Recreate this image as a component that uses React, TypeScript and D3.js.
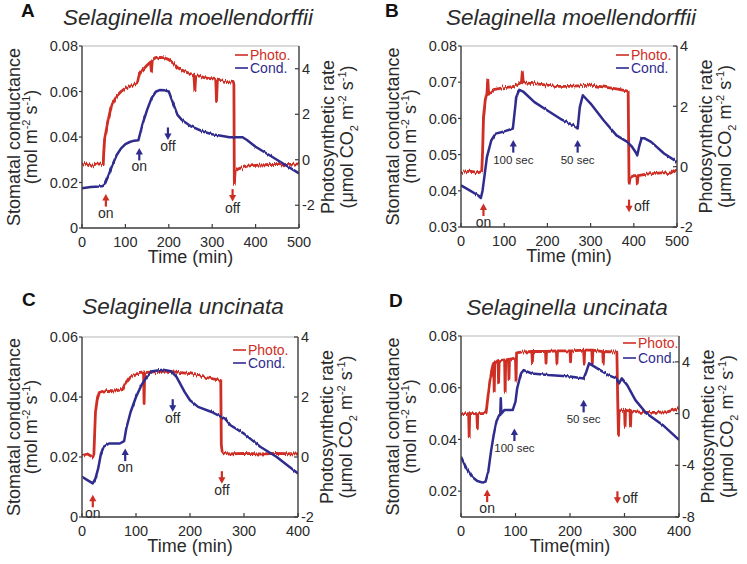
import React from 'react';
import * as d3 from 'd3';

// ---------- DATA ----------
// [time (min), value]
const photoA: [number, number][] = [[0,-0.2],[10,-0.15],[20,-0.25],[30,-0.2],[40,-0.18],[49,-0.22],[50,0.3],[52,0.9],[56,1.3],[60,1.7],[65,2.15],[70,2.45],[80,2.8],[90,3.0],[100,3.15],[110,3.22],[120,3.3],[128,3.4],[132,3.75],[140,3.95],[150,4.15],[158,4.3],[160,3.85],[162,4.35],[170,4.45],[180,4.5],[190,4.48],[200,4.4],[210,4.25],[220,4.05],[230,3.95],[240,3.85],[250,3.78],[258,3.72],[260,3.05],[262,3.7],[270,3.68],[280,3.62],[290,3.58],[300,3.55],[308,3.52],[310,2.6],[312,3.5],[320,3.48],[330,3.45],[340,3.42],[348,3.4],[350,3.3],[351,-1.05],[353,-0.5],[360,-0.4],[370,-0.35],[380,-0.28],[400,-0.25],[420,-0.22],[440,-0.2],[460,-0.22],[480,-0.2],[500,-0.18]];
const condA: [number, number][] = [[0,0.0175],[20,0.018],[40,0.0182],[48,0.0185],[52,0.019],[60,0.0226],[70,0.0277],[80,0.0321],[90,0.035],[100,0.0369],[110,0.0378],[120,0.0384],[130,0.0386],[135,0.0423],[140,0.046],[150,0.0519],[160,0.057],[170,0.0599],[180,0.0607],[190,0.0605],[200,0.06],[210,0.0548],[220,0.0497],[230,0.0475],[250,0.0448],[280,0.0423],[300,0.0412],[340,0.0399],[370,0.0399],[380,0.0387],[400,0.0357],[450,0.0299],[500,0.024]];

const photoB: [number, number][] = [[0,-0.2],[20,-0.15],[40,-0.2],[48,-0.15],[50,0.5],[52,1.6],[56,2.2],[60,2.45],[62,2.9],[64,2.4],[75,2.55],[100,2.62],[120,2.65],[130,2.72],[140,2.8],[142,3.15],[144,2.78],[170,2.75],[200,2.7],[220,2.66],[250,2.66],[270,2.68],[300,2.7],[320,2.66],[340,2.62],[360,2.58],[380,2.52],[387,2.5],[389,-0.55],[392,-0.35],[400,-0.3],[407,-0.3],[408,-0.55],[410,-0.3],[430,-0.25],[450,-0.22],[470,-0.2],[485,-0.25],[500,-0.1]];
const condB: [number, number][] = [[0,0.0415],[20,0.0401],[40,0.0387],[46,0.038],[50,0.0401],[55,0.0447],[60,0.0493],[70,0.0539],[80,0.0558],[100,0.0564],[120,0.0572],[123,0.0604],[128,0.0659],[135,0.0679],[145,0.0673],[170,0.0645],[200,0.0622],[230,0.0599],[260,0.0581],[270,0.0572],[275,0.0631],[282,0.0664],[300,0.0641],[330,0.0595],[360,0.0553],[385,0.0535],[395,0.0523],[405,0.0505],[408,0.0498],[413,0.0525],[418,0.0545],[425,0.0545],[440,0.0535],[470,0.0503],[500,0.048]];

const photoC: [number, number][] = [[0,0.05],[10,0.1],[20,0.0],[22,0.1],[25,1.5],[28,1.9],[32,2.15],[40,2.2],[50,2.22],[60,2.2],[75,2.25],[80,2.45],[90,2.7],[100,2.77],[114,2.8],[115,1.78],[116,2.8],[120,2.82],[150,2.86],[170,2.84],[200,2.78],[230,2.65],[250,2.58],[257,2.55],[258,0.4],[260,0.15],[270,0.1],[300,0.12],[330,0.1],[360,0.12],[400,0.1]];
const condC: [number, number][] = [[0,0.0134],[10,0.0123],[20,0.0112],[25,0.0129],[30,0.0162],[35,0.021],[40,0.0234],[50,0.0245],[70,0.0245],[78,0.0253],[82,0.0295],[90,0.035],[100,0.04],[110,0.0439],[120,0.0467],[130,0.0486],[150,0.0491],[165,0.0486],[175,0.0467],[190,0.0417],[200,0.0389],[215,0.0367],[240,0.035],[258,0.0334],[265,0.0328],[275,0.0306],[300,0.0278],[330,0.0234],[360,0.0201],[400,0.0145]];

const photoD: [number, number][] = [[0,0],[14,0],[15,-1.8],[16,0],[29,0],[30,-1.1],[31,0],[40,0],[46,0.05],[50,1.5],[53,2.5],[57,3.4],[60,3.9],[61,1.7],[62,3.9],[68,4.1],[69,2.4],[70,4.1],[80,4.15],[81,1.7],[82,4.15],[87,4.2],[88,2.7],[89,4.2],[100,4.3],[101,2.5],[102,4.7],[110,4.75],[130,4.8],[131,3.9],[132,4.8],[155,4.8],[156,3.9],[157,4.8],[175,4.85],[176,3.9],[177,4.85],[200,4.85],[201,4.0],[202,4.85],[225,4.9],[226,3.9],[227,4.9],[240,4.9],[241,3.9],[242,4.9],[260,4.8],[261,3.9],[262,4.8],[286,4.75],[288,0.15],[289,-1.7],[290,0.2],[300,0.27],[301,-1.0],[302,0.25],[310,0.2],[311,-1.0],[312,0.2],[330,0.1],[360,0.1],[380,0.15],[400,0.4]];
const condD: [number, number][] = [[0,0.0333],[10,0.0288],[20,0.0256],[30,0.0239],[40,0.0233],[45,0.0237],[50,0.0275],[55,0.0353],[60,0.0417],[65,0.0469],[70,0.0494],[72,0.0494],[73,0.0559],[74,0.05],[80,0.0514],[95,0.0514],[100,0.0546],[103,0.0597],[110,0.0655],[115,0.0668],[130,0.0655],[160,0.0649],[200,0.0643],[225,0.0636],[230,0.0662],[235,0.0694],[250,0.0675],[270,0.0649],[285,0.0636],[290,0.0617],[295,0.0636],[305,0.061],[320,0.0552],[340,0.0501],[370,0.0456],[400,0.0398]];

// Annotations: t (min), v = tip position on the left axis, direction, colour, label, label side
type Mark = { t: number; v: number; dir: 'up' | 'down'; c: 'r' | 'b'; label: string; side: 'below' | 'right'; small?: boolean };
const marksA: Mark[] = [
  { t: 55, v: 0.0149, dir: 'up', c: 'r', label: 'on', side: 'below' },
  { t: 132, v: 0.0352, dir: 'up', c: 'b', label: 'on', side: 'below' },
  { t: 198, v: 0.0387, dir: 'down', c: 'b', label: 'off', side: 'below' },
  { t: 347, v: 0.0116, dir: 'down', c: 'r', label: 'off', side: 'below' },
];
const marksB: Mark[] = [
  { t: 52, v: 0.0365, dir: 'up', c: 'r', label: 'on', side: 'below' },
  { t: 121, v: 0.054, dir: 'up', c: 'b', label: '100 sec', side: 'below', small: true },
  { t: 270, v: 0.054, dir: 'up', c: 'b', label: '50 sec', side: 'below', small: true },
  { t: 389, v: 0.0341, dir: 'down', c: 'r', label: 'off', side: 'right' },
];
const marksC: Mark[] = [
  { t: 20, v: 0.0074, dir: 'up', c: 'r', label: 'on', side: 'below' },
  { t: 80, v: 0.0228, dir: 'up', c: 'b', label: 'on', side: 'below' },
  { t: 168, v: 0.0351, dir: 'down', c: 'b', label: 'off', side: 'below' },
  { t: 259, v: 0.0111, dir: 'down', c: 'r', label: 'off', side: 'below' },
];
const marksD: Mark[] = [
  { t: 48, v: 0.0206, dir: 'up', c: 'r', label: 'on', side: 'below' },
  { t: 98, v: 0.0442, dir: 'up', c: 'b', label: '100 sec', side: 'below', small: true },
  { t: 225, v: 0.0553, dir: 'up', c: 'b', label: '50 sec', side: 'below', small: true },
  { t: 287, v: 0.0151, dir: 'down', c: 'r', label: 'off', side: 'right' },
];

// Axis domains & tick labels
const xTicks500 = [0, 100, 200, 300, 400, 500];
const xTicks400 = [0, 100, 200, 300, 400];
const leftTicksA = [0, 0.02, 0.04, 0.06, 0.08];
const leftTicksB = [0.03, 0.04, 0.05, 0.06, 0.07, 0.08];
const leftTicksC = [0, 0.02, 0.04, 0.06];
const leftTicksD = [0.02, 0.04, 0.06, 0.08];
const rightTicksABC = [-2, 0, 2, 4];
const rightTicksD = [-8, -4, 0, 4];
const leftDomA = [0, 0.08], rightDomA = [-3, 5];
const leftDomB = [0.03, 0.08], rightDomB = [-2, 4];
const leftDomC = [0, 0.06], rightDomC = [-2, 4];
const leftDomD = [0.01, 0.08], rightDomD = [-8, 6];
const legendLabels = ['Photo.', 'Cond.'];
const speciesTitles = ['Selaginella moellendorffii', 'Selaginella moellendorffii', 'Selaginella uncinata', 'Selaginella uncinata'];
const xTitles = ['Time (min)', 'Time (min)', 'Time (min)', 'Time(min)'];

// ---------- STYLE ----------
const RED = '#cf2e25';
const BLUE = '#2f2c8e';
const AXIS = '#3c3c3c';
const TXT = '#2a2a2a';
const FONT = "'Liberation Sans', Arial, Helvetica, sans-serif";

type Cfg = {
  id: string; letter: string; title: string; xTitle: string;
  left: number; right: number; top: number; bottom: number;
  xDom: number[]; xTicks: number[]; lDom: number[]; lTicks: number[]; rDom: number[]; rTicks: number[];
  photo: [number, number][]; cond: [number, number][]; marks: Mark[];
  letterX: number; letterY: number; titleX: number; titleY: number;
  legDx: number; legDy: number; legDy2: number;
};

const panels: Cfg[] = [
  { id: 'A', letter: 'A', title: speciesTitles[0], xTitle: xTitles[0], left: 82, right: 299, top: 46, bottom: 228,
    xDom: [0, 500], xTicks: xTicks500, lDom: leftDomA, lTicks: leftTicksA, rDom: rightDomA, rTicks: rightTicksABC,
    photo: photoA, cond: condA, marks: marksA, letterX: 21, letterY: 17, titleX: 188, titleY: 25, legDx: -64, legDy: 9, legDy2: 22 },
  { id: 'B', letter: 'B', title: speciesTitles[1], xTitle: xTitles[1], left: 461, right: 677, top: 46, bottom: 227,
    xDom: [0, 500], xTicks: xTicks500, lDom: leftDomB, lTicks: leftTicksB, rDom: rightDomB, rTicks: rightTicksABC,
    photo: photoB, cond: condB, marks: marksB, letterX: 385, letterY: 17, titleX: 571, titleY: 25, legDx: -61, legDy: 9, legDy2: 22 },
  { id: 'C', letter: 'C', title: speciesTitles[2], xTitle: xTitles[2], left: 82, right: 298, top: 337, bottom: 517,
    xDom: [0, 400], xTicks: xTicks400, lDom: leftDomC, lTicks: leftTicksC, rDom: rightDomC, rTicks: rightTicksABC,
    photo: photoC, cond: condC, marks: marksC, letterX: 22, letterY: 306, titleX: 183, titleY: 314, legDx: -65, legDy: 13, legDy2: 26 },
  { id: 'D', letter: 'D', title: speciesTitles[3], xTitle: xTitles[3], left: 461, right: 679, top: 336, bottom: 517,
    xDom: [0, 400], xTicks: xTicks400, lDom: leftDomD, lTicks: leftTicksD, rDom: rightDomD, rTicks: rightTicksD,
    photo: photoD, cond: condD, marks: marksD, letterX: 389, letterY: 307, titleX: 567, titleY: 315, legDx: -56, legDy: 7, legDy2: 22 },
];

const fmtL = (v: number) => (v === 0 ? '0' : v.toFixed(2));

function Arrow({ x, y, dir, color }: { x: number; y: number; dir: 'up' | 'down'; color: string }) {
  // y = tip
  const s = dir === 'up' ? 1 : -1;
  const head = `M${x},${y} L${x - 3.6},${y + s * 6.5} L${x + 3.6},${y + s * 6.5} Z`;
  const shaftY0 = y + s * 5.5;
  const shaftY1 = y + s * 12.5;
  return (
    <g>
      <path d={head} fill={color} />
      <rect x={x - 1.1} y={Math.min(shaftY0, shaftY1)} width={2.2} height={7} fill={color} />
    </g>
  );
}

function Panel({ p }: { p: Cfg }) {
  const x = d3.scaleLinear().domain(p.xDom).range([p.left, p.right]);
  const yL = d3.scaleLinear().domain(p.lDom).range([p.bottom, p.top]);
  const yR = d3.scaleLinear().domain(p.rDom).range([p.bottom, p.top]);
  const lineR = d3.line<[number, number]>().x(d => x(d[0])).y(d => yR(d[1]));
  const lineL = d3.line<[number, number]>().x(d => x(d[0])).y(d => yL(d[1]));
  const cx = (p.left + p.right) / 2;
  const cy = (p.top + p.bottom) / 2;
  const clipId = `clip-${p.id}`;
  return (
    <g fontFamily={FONT}>
      <defs>
        <clipPath id={clipId}>
          <rect x={p.left} y={p.top - 2} width={p.right - p.left} height={p.bottom - p.top + 2} />
        </clipPath>
      </defs>
      {/* letter and title */}
      <text x={p.letterX} y={p.letterY} fontSize={19} fontWeight="bold" fill="#111">{p.letter}</text>
      <text x={p.titleX} y={p.titleY} fontSize={22.5} fontStyle="italic" textAnchor="middle" fill={TXT}>{p.title}</text>

      {/* top border */}
      <line x1={p.left} x2={p.right} y1={p.top} y2={p.top} stroke="#b5b5b5" strokeWidth={1.2} />

      {/* traces (a vertical-only displacement filter gives the measured-signal jitter look) */}
      <g clipPath={`url(#${clipId})`}>
        <path d={lineR(p.photo) || ''} fill="none" stroke={RED} strokeWidth={2.8} strokeLinejoin="round" filter="url(#jitterR)" />
        <path d={lineL(p.cond) || ''} fill="none" stroke={BLUE} strokeWidth={2.5} strokeLinejoin="round" filter="url(#jitterB)" />
      </g>

      {/* axes */}
      <line x1={p.left} x2={p.left} y1={p.top} y2={p.bottom} stroke={AXIS} strokeWidth={1.4} />
      <line x1={p.right} x2={p.right} y1={p.top} y2={p.bottom} stroke={AXIS} strokeWidth={1.4} />
      <line x1={p.left} x2={p.right} y1={p.bottom} y2={p.bottom} stroke={AXIS} strokeWidth={1.4} />

      {p.xTicks.map(t => (
        <g key={'x' + t}>
          <line x1={x(t)} x2={x(t)} y1={p.bottom} y2={p.bottom - 4} stroke={AXIS} strokeWidth={1.2} />
          <text x={x(t)} y={p.bottom + 18.5} fontSize={14.5} textAnchor="middle" fill={TXT}>{t}</text>
        </g>
      ))}
      {p.lTicks.map(t => (
        <g key={'l' + t}>
          <line x1={p.left - 3} x2={p.left} y1={yL(t)} y2={yL(t)} stroke={AXIS} strokeWidth={1.2} />
          <text x={p.left - 4} y={yL(t) + 5.2} fontSize={14.5} textAnchor="end" fill={TXT}>{fmtL(t)}</text>
        </g>
      ))}
      {p.rTicks.map(t => (
        <g key={'r' + t}>
          <line x1={p.right - 4} x2={p.right} y1={yR(t)} y2={yR(t)} stroke={AXIS} strokeWidth={1.2} />
          <text x={p.right + 3} y={yR(t) + 5.2} fontSize={14.5} textAnchor="start" fill={TXT}>{t}</text>
        </g>
      ))}

      {/* axis titles */}
      <text x={cx} y={p.bottom + 35} fontSize={18} textAnchor="middle" fill={TXT}>{p.xTitle}</text>
      <g transform={`translate(${p.left - 62},${cy}) rotate(-90)`}>
        <text x={0} y={0} fontSize={18} textAnchor="middle" fill={TXT}>Stomatal conductance</text>
        <text x={0} y={17} fontSize={18} textAnchor="middle" fill={TXT}>
          (mol m<tspan dy={-7} fontSize={11}>-2</tspan><tspan dy={7}> s</tspan><tspan dy={-7} fontSize={11}>-1</tspan><tspan dy={7}>)</tspan>
        </text>
      </g>
      <g transform={`translate(${p.right + 35},${cy}) rotate(-90)`}>
        <text x={0} y={0} fontSize={18} textAnchor="middle" fill={TXT}>Photosynthetic rate</text>
        <text x={0} y={19} fontSize={18} textAnchor="middle" fill={TXT}>
          (μmol CO<tspan dy={5} fontSize={11}>2</tspan><tspan dy={-5}> m</tspan><tspan dy={-7} fontSize={11}>-2</tspan><tspan dy={7}> s</tspan><tspan dy={-7} fontSize={11}>-1</tspan><tspan dy={7}>)</tspan>
        </text>
      </g>

      {/* legend */}
      {legendLabels.map((lab, i) => {
        const ly = p.top + (i === 0 ? p.legDy : p.legDy2);
        const col = i === 0 ? RED : BLUE;
        return (
          <g key={lab}>
            <line x1={p.right + p.legDx} x2={p.right + p.legDx + 13} y1={ly} y2={ly} stroke={col} strokeWidth={1.6} />
            <text x={p.right + p.legDx + 15} y={ly + 4.8} fontSize={14} fill={col}>{lab}</text>
          </g>
        );
      })}

      {/* arrows */}
      {p.marks.map((m, i) => {
        const ax = x(m.t);
        const ay = yL(m.v);
        const col = m.c === 'r' ? RED : BLUE;
        const bottom = m.dir === 'up' ? ay + 12.5 : ay;
        const midY = m.dir === 'up' ? ay + 6 : ay - 6;
        return (
          <g key={i}>
            <Arrow x={ax} y={ay} dir={m.dir} color={col} />
            {m.side === 'below' ? (
              <text x={ax} y={bottom + 11} fontSize={m.small ? 11.5 : 14} textAnchor="middle" fill={TXT}>{m.label}</text>
            ) : (
              <text x={ax + 5} y={midY + 5} fontSize={14} textAnchor="start" fill={TXT}>{m.label}</text>
            )}
          </g>
        );
      })}
    </g>
  );
}

export default function App() {
  return (
    <svg width={747} height={564} viewBox="0 0 747 564" style={{ position: 'absolute', left: 0, top: 0, background: '#fff' }}>
      <defs>
        <filter id="jitterR" x="-5%" y="-15%" width="110%" height="130%" filterUnits="objectBoundingBox" colorInterpolationFilters="sRGB">
          <feTurbulence type="fractalNoise" baseFrequency="1.1 0.02" numOctaves={2} seed={3} result="n" />
          <feColorMatrix in="n" type="matrix" values="0 0 0 0 0.5  0 1 0 0 0  0 0 0 0 0  0 0 0 0 1" result="ny" />
          <feDisplacementMap in="SourceGraphic" in2="ny" scale={5} xChannelSelector="R" yChannelSelector="G" />
        </filter>
        <filter id="jitterB" x="-5%" y="-15%" width="110%" height="130%" filterUnits="objectBoundingBox" colorInterpolationFilters="sRGB">
          <feTurbulence type="fractalNoise" baseFrequency="1.1 0.02" numOctaves={2} seed={7} result="n" />
          <feColorMatrix in="n" type="matrix" values="0 0 0 0 0.5  0 1 0 0 0  0 0 0 0 0  0 0 0 0 1" result="ny" />
          <feDisplacementMap in="SourceGraphic" in2="ny" scale={2.5} xChannelSelector="R" yChannelSelector="G" />
        </filter>
      </defs>
      <rect x={0} y={0} width={747} height={564} fill="#fff" />
      {panels.map(p => <Panel key={p.id} p={p} />)}
    </svg>
  );
}
